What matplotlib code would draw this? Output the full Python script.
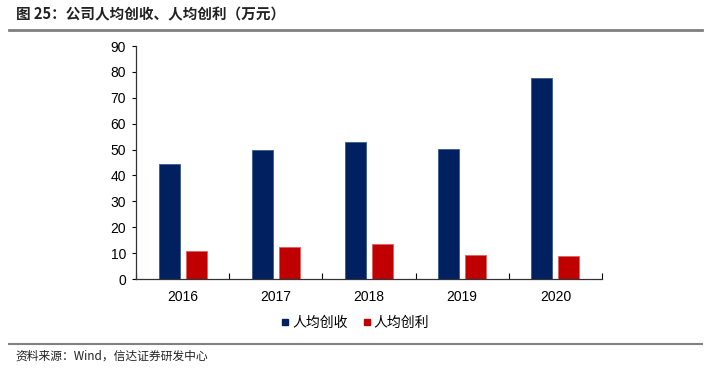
import matplotlib
matplotlib.use("Agg")

import matplotlib.pyplot as plt
import numpy as np
from matplotlib.lines import Line2D

plt.rcParams["font.family"] = ["Liberation Sans", "Noto Sans CJK SC", "DejaVu Sans"]

years = ["2016", "2017", "2018", "2019", "2020"]
revenue_per_head = [44.3, 49.8, 52.9, 50.2, 77.6]
profit_per_head = [10.8, 12.4, 13.4, 9.3, 8.9]
series_names = ["人均创收", "人均创利"]
title_text = "图 25：公司人均创收、人均创利（万元）"
source_text = "资料来源：Wind，信达证券研发中心"

BLUE = "#002060"
RED = "#C00000"
CJK = ["Noto Sans CJK SC", "DejaVu Sans"]

fig = plt.figure(figsize=(7.13, 3.68), dpi=100)
ax = fig.add_axes([0.1907, 0.2418, 0.6536, 0.6332])

x = np.arange(len(years))
w = 0.225
off = 0.145
ax.bar(x - off, revenue_per_head, width=w, color=BLUE, edgecolor="#3a5a90", linewidth=0.6, zorder=2)
ax.bar(x + off, profit_per_head, width=w, color=RED, edgecolor="#e06060", linewidth=0.6, zorder=2)

ax.set_xlim(-0.5, len(years) - 0.5)
ax.set_ylim(0, 90)
ax.set_yticks(range(0, 91, 10))
ax.tick_params(axis="y", direction="out", length=3, width=0.8, labelsize=10, pad=4)

# category labels between boundary ticks
ax.set_xticks(np.arange(len(years) + 1) - 0.5)
ax.set_xticklabels([])
ax.tick_params(axis="x", which="major", direction="in", length=4, width=0.8)
ax.set_xticks(x, minor=True)
ax.set_xticklabels(years, minor=True, fontsize=10)
ax.tick_params(axis="x", which="minor", length=0, pad=8)

for s in ["top", "right"]:
    ax.spines[s].set_visible(False)
for s in ["left", "bottom"]:
    ax.spines[s].set_linewidth(0.9)
    ax.spines[s].set_color("#333333")

handles = [
    Line2D([], [], marker="s", linestyle="none", color=BLUE, markersize=5),
    Line2D([], [], marker="s", linestyle="none", color=RED, markersize=5),
]
fig.legend(handles, series_names, loc="center", bbox_to_anchor=(0.497, 0.122), ncol=2,
           frameon=False, prop={"family": CJK, "size": 10}, handletextpad=0.1,
           columnspacing=1.0, handlelength=0.8)

# header / footer
fig.text(0.022, 0.962, title_text, fontsize=10.5, fontweight="bold", family=CJK,
         ha="left", va="center", color="#222222")
fig.add_artist(Line2D([0.012, 0.985], [0.918, 0.918], color="#808080", linewidth=2))
fig.add_artist(Line2D([0.012, 0.985], [0.064, 0.064], color="#808080", linewidth=1.5))
fig.text(0.022, 0.033, source_text, fontsize=8.5, style="italic", family=CJK,
         ha="left", va="center", color="#222222")

fig.savefig("out.png", dpi=100)
plt.close(fig)
